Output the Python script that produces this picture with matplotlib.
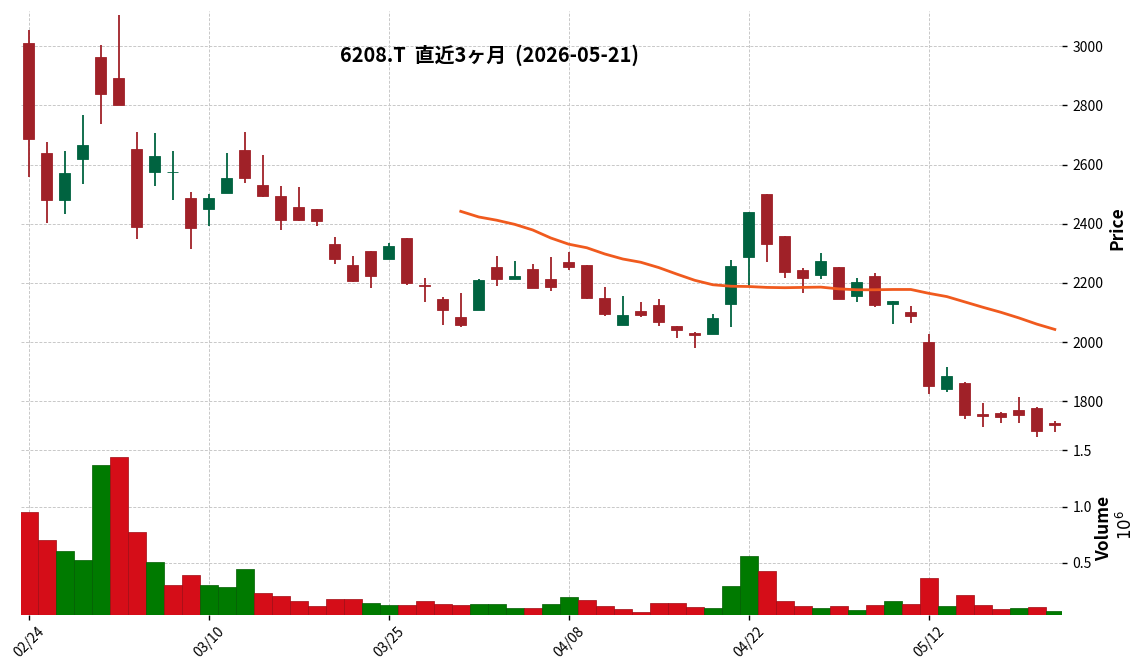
import matplotlib
matplotlib.use('Agg')
import matplotlib.pyplot as plt
import numpy as np
import pandas as pd

plt.rcParams['font.family'] = ['Noto Sans CJK JP', 'DejaVu Sans']

# ---------------- data ----------------
dates = ["2026-02-24", "2026-02-25", "2026-02-26", "2026-02-27",
         "2026-03-02", "2026-03-03", "2026-03-04", "2026-03-05", "2026-03-06",
         "2026-03-09", "2026-03-10", "2026-03-11", "2026-03-12", "2026-03-13",
         "2026-03-16", "2026-03-17", "2026-03-18", "2026-03-19",
         "2026-03-23", "2026-03-24", "2026-03-25", "2026-03-26", "2026-03-27",
         "2026-03-30", "2026-03-31", "2026-04-01", "2026-04-02", "2026-04-03",
         "2026-04-06", "2026-04-07", "2026-04-08", "2026-04-09", "2026-04-10",
         "2026-04-13", "2026-04-14", "2026-04-15", "2026-04-16", "2026-04-17",
         "2026-04-20", "2026-04-21", "2026-04-22", "2026-04-23", "2026-04-24",
         "2026-04-27", "2026-04-28", "2026-04-30", "2026-05-01",
         "2026-05-07", "2026-05-08", "2026-05-11", "2026-05-12", "2026-05-13",
         "2026-05-14", "2026-05-15", "2026-05-18", "2026-05-19", "2026-05-20",
         "2026-05-21"]

opens = [3011, 2639, 2481, 2619, 2964, 2893, 2653, 2575, 2574, 2487,
         2450, 2504, 2650, 2531, 2494, 2457, 2450, 2332, 2261, 2308,
         2281, 2352, 2192, 2145, 2085, 2109, 2254, 2215, 2247, 2213,
         2271, 2261, 2149, 2059, 2105, 2126, 2055, 2032, 2029, 2129,
         2289, 2501, 2359, 2244, 2227, 2254, 2157, 2224, 2130, 2102,
         2001, 1843, 1862, 1757, 1761, 1771, 1779, 1727]
highs = [3054, 2676, 2645, 2767, 3003, 3107, 2709, 2706, 2645, 2507,
         2500, 2638, 2709, 2632, 2527, 2523, 2450, 2354, 2290, 2308,
         2336, 2352, 2216, 2152, 2165, 2214, 2290, 2273, 2263, 2287,
         2304, 2261, 2185, 2156, 2135, 2145, 2055, 2033, 2095, 2277,
         2440, 2501, 2359, 2250, 2300, 2254, 2216, 2233, 2139, 2121,
         2027, 1915, 1865, 1796, 1765, 1814, 1780, 1735]
lows = [2557, 2402, 2432, 2534, 2736, 2802, 2348, 2527, 2479, 2314,
        2392, 2503, 2539, 2489, 2380, 2411, 2394, 2263, 2202, 2182,
        2281, 2192, 2135, 2057, 2050, 2109, 2191, 2215, 2184, 2174,
        2243, 2147, 2090, 2059, 2086, 2056, 2015, 1981, 2029, 2050,
        2191, 2270, 2216, 2165, 2212, 2145, 2135, 2120, 2060, 2066,
        1826, 1830, 1739, 1712, 1728, 1728, 1678, 1698]
closes = [2688, 2481, 2572, 2666, 2839, 2802, 2389, 2629, 2575, 2386,
          2487, 2554, 2556, 2494, 2414, 2412, 2411, 2281, 2207, 2224,
          2325, 2200, 2190, 2109, 2059, 2211, 2212, 2222, 2184, 2188,
          2255, 2150, 2094, 2093, 2091, 2068, 2041, 2025, 2082, 2257,
          2440, 2330, 2237, 2218, 2274, 2146, 2203, 2126, 2139, 2090,
          1853, 1886, 1754, 1749, 1747, 1754, 1701, 1721]
volumes_m = [0.953, 0.701, 0.602, 0.530, 1.368, 1.440, 0.773, 0.512, 0.305, 0.395,
             0.305, 0.287, 0.449, 0.233, 0.206, 0.161, 0.116, 0.179, 0.179, 0.143,
             0.125, 0.125, 0.161, 0.134, 0.125, 0.134, 0.134, 0.098, 0.098, 0.134,
             0.197, 0.170, 0.116, 0.089, 0.062, 0.143, 0.143, 0.107, 0.098, 0.296,
             0.566, 0.431, 0.161, 0.116, 0.098, 0.116, 0.080, 0.125, 0.161, 0.134,
             0.368, 0.116, 0.215, 0.125, 0.089, 0.098, 0.107, 0.071]
# 25-day moving average (starts at 25th session)
ma25 = [None] * 24 + [2442, 2423, 2412, 2398, 2379, 2352, 2331, 2319, 2298, 2281,
                      2270, 2252, 2230, 2209, 2194, 2189, 2188, 2185, 2184, 2185,
                      2186, 2180, 2177, 2177, 2178, 2178, 2165, 2154, 2136, 2118,
                      2101, 2082, 2061, 2043]

title = "6208.T  直近3ヶ月  (2026-05-21)"
price_ticks = [1800, 2000, 2200, 2400, 2600, 2800, 3000]
vol_ticks = [0.5, 1.0, 1.5]
xtick_idx = [0, 10, 20, 30, 40, 50]

# ---------------- styles ----------------
UP_C = '#006340'
DN_C = '#A02128'
VUP_C = '#007a00'
VDN_C = '#d50d18'
VUP_E = '#005c00'
VDN_E = '#a00a12'
MA_C = '#f05a1e'
GRID_KW = dict(color='#c8c8c8', linestyle=(0, (3, 1.6)), linewidth=0.7)

o = np.array(opens, float)
h = np.array(highs, float)
l = np.array(lows, float)
c = np.array(closes, float)
v = np.array(volumes_m, float)
x = np.arange(len(o))
dts = pd.to_datetime(dates)

fig = plt.figure(figsize=(11.48, 6.70), dpi=100)
W, H = 1148, 670
L_px, R_px = 21, 1062
ax = fig.add_axes([L_px / W, 1 - 441 / H, (R_px - L_px) / W, 430 / H])
axv = fig.add_axes([L_px / W, 1 - 615 / H, (R_px - L_px) / W, 174 / H], sharex=ax)

for a in (ax, axv):
    a.set_facecolor('white')
    for s in a.spines.values():
        s.set_visible(False)
    a.set_axisbelow(True)
    a.grid(True, **GRID_KW)

# candles
up = c >= o
ccol = np.where(up, UP_C, DN_C)
ax.vlines(x, l, h, colors=ccol, linewidth=1.3, zorder=2)
body_bot = np.minimum(o, c)
body_h = np.maximum(np.abs(c - o), 0.5)
ax.bar(x, body_h, bottom=body_bot, width=0.62, color=ccol, edgecolor=ccol,
       linewidth=0.6, zorder=3)

# moving average
ma_arr = np.array([np.nan if m is None else m for m in ma25], float)
ax.plot(x, ma_arr, color=MA_C, linewidth=2.0, zorder=4)

ax.set_xlim(-0.43, 57.4)
ax.set_ylim(1666, 3119)
ax.set_yticks(price_ticks)
ax.yaxis.tick_right()
ax.tick_params(axis='y', direction='out', length=3.5, width=1, labelsize=10,
               pad=4, colors='black')
ax.set_xticks(xtick_idx)
ax.tick_params(axis='x', length=0, labelbottom=False)

# volume
prev = np.concatenate([[o[0]], c[:-1]])
vup = c > prev
vcol = np.where(vup, VUP_C, VDN_C)
vedge = np.where(vup, VUP_E, VDN_E)
axv.bar(x, v, width=1.0, color=vcol, edgecolor=vedge, linewidth=0.5, zorder=2)
axv.set_ylim(0.0375, 1.584)
axv.set_yticks(vol_ticks)
axv.set_yticklabels([f"{t:.1f}" for t in vol_ticks])
axv.yaxis.tick_right()
axv.tick_params(axis='y', direction='out', length=3.5, width=1, labelsize=10,
                pad=4, colors='black')
axv.set_xticks(xtick_idx)
axv.set_xticklabels([dts[i].strftime('%m/%d') for i in xtick_idx])
axv.tick_params(axis='x', direction='out', length=3.5, width=1, labelsize=10,
                pad=3, labelrotation=45)

# labels
fig.text(1117 / W, 1 - 228 / H, 'Price', rotation=90, ha='center', va='center',
         fontsize=12.5, fontweight='bold')
fig.text(1104 / W, 1 - 528 / H, 'Volume', rotation=90, ha='center', va='center',
         fontsize=12.5, fontweight='bold')
fig.text(1126 / W, 1 - 525 / H, r'$10^{6}$', rotation=90, ha='center', va='center',
         fontsize=12)
fig.text(489.5 / W, 1 - 55 / H, title, ha='center', va='center',
         fontsize=14.3, fontweight='bold')

fig.savefig('out.png', dpi=100, facecolor='white')
